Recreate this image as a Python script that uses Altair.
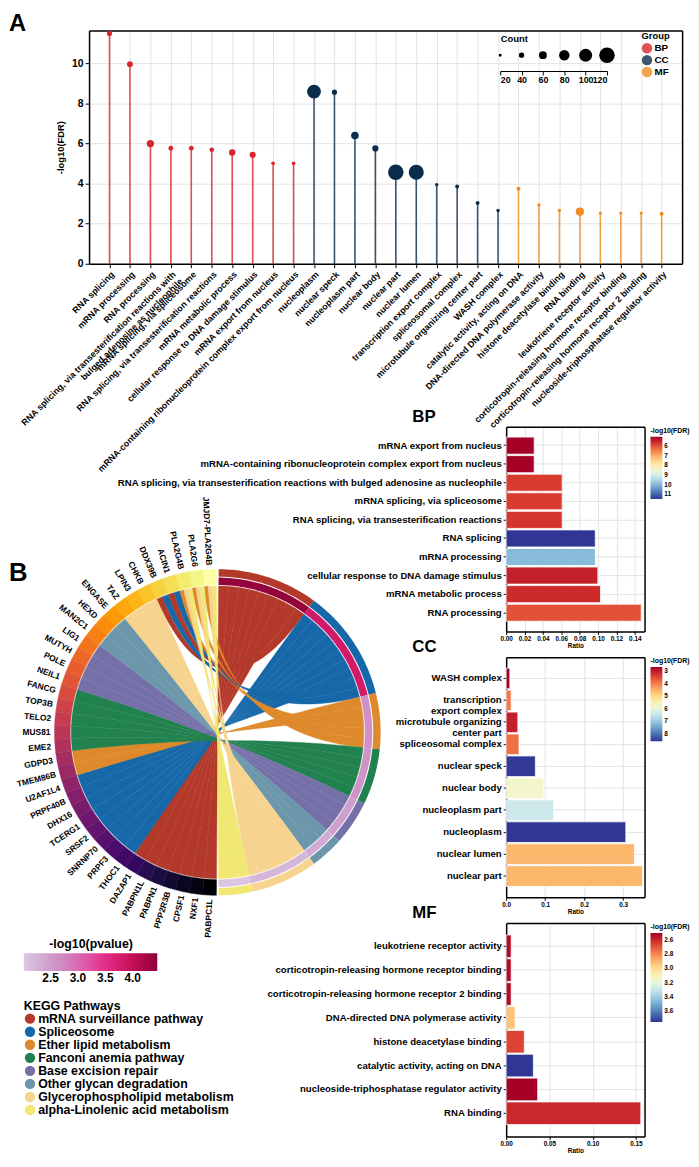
import math
import altair as alt
import pandas as pd

FONT = "Liberation Sans"

# ---------------- GO enrichment data (panel A and bar charts) ----------------
bp_terms = ["RNA splicing", "mRNA processing", "RNA processing",
            "RNA splicing, via transesterification reactions with bulged adenosine as nucleophile",
            "mRNA splicing, via spliceosome", "RNA splicing, via transesterification reactions",
            "mRNA metabolic process", "cellular response to DNA damage stimulus",
            "mRNA export from nucleus", "mRNA-containing ribonucleoprotein complex export from nucleus"]
bp_fdr = [11.5, 9.97, 6.0, 5.77, 5.77, 5.69, 5.56, 5.44, 5.02, 5.02]
bp_count = [39, 44, 56, 36, 36, 34, 49, 47, 27, 27]
bp_ratio = [0.097, 0.097, 0.147, 0.061, 0.061, 0.061, 0.1027, 0.0998, 0.0305, 0.0305]

cc_terms = ["nucleoplasm", "nuclear speck", "nucleoplasm part", "nuclear body", "nuclear part",
            "nuclear lumen", "transcription export complex", "spliceosomal complex",
            "microtubule organizing center part", "WASH complex"]
cc_fdr = [8.6, 8.57, 6.41, 5.76, 4.57, 4.57, 3.95, 3.86, 3.04, 2.66]
cc_count = [107, 39, 58, 47, 120, 117, 24, 29, 29, 24]
cc_ratio = [0.307, 0.075, 0.122, 0.0966, 0.350, 0.329, 0.0128, 0.033, 0.030, 0.0095]

mf_terms = ["catalytic activity, acting on DNA", "DNA-directed DNA polymerase activity",
            "histone deacetylase binding", "RNA binding", "leukotriene receptor activity",
            "corticotropin-releasing hormone receptor binding",
            "corticotropin-releasing hormone receptor 2 binding",
            "nucleoside-triphosphatase regulator activity"]
mf_fdr = [3.75, 2.94, 2.66, 2.60, 2.53, 2.53, 2.53, 2.50]
mf_count = [29, 24, 24, 63, 22, 22, 22, 29]
mf_ratio = [0.0315, 0.0104, 0.021, 0.1557, 0.0058, 0.0058, 0.0058, 0.0365]

groups = ["BP", "CC", "MF"]
group_colors = ["#d8262c", "#0c2c4b", "#f28b1e"]
size_legend_counts = [20, 40, 60, 80, 100, 120]

bp_bar_order = ["mRNA export from nucleus", "mRNA-containing ribonucleoprotein complex export from nucleus",
                "RNA splicing, via transesterification reactions with bulged adenosine as nucleophile",
                "mRNA splicing, via spliceosome", "RNA splicing, via transesterification reactions",
                "RNA splicing", "mRNA processing", "cellular response to DNA damage stimulus",
                "mRNA metabolic process", "RNA processing"]
cc_bar_order = ["WASH complex", "transcription export complex", "microtubule organizing center part",
                "spliceosomal complex", "nuclear speck", "nuclear body", "nucleoplasm part",
                "nucleoplasm", "nuclear lumen", "nuclear part"]
mf_bar_order = ["leukotriene receptor activity", "corticotropin-releasing hormone receptor binding",
                "corticotropin-releasing hormone receptor 2 binding", "DNA-directed DNA polymerase activity",
                "histone deacetylase binding", "catalytic activity, acting on DNA",
                "nucleoside-triphosphatase regulator activity", "RNA binding"]

# ---------------- KEGG chord data (panel B) ----------------
genes = ["JMJD7-PLA2G4B", "PLA2G6", "PLA2G4B", "ACIN1", "DDX39B", "CHKB", "LPIN3", "TAZ",
         "ENGASE", "HEXD", "MAN2C1", "LIG1", "MUTYH", "POLE", "NEIL1", "FANCG", "TOP3B",
         "TELO2", "MUS81", "EME2", "GDPD3", "TMEM86B", "U2AF1L4", "PRPF40B", "DHX16",
         "TCERG1", "SRSF2", "SNRNP70", "PRPF3", "THOC1", "DAZAP1", "PABPN1L", "PABPN1",
         "PPP2R3B", "CPSF1", "NXF1", "PABPC1L"]
pathways = ["mRNA surveillance pathway", "Spliceosome", "Ether lipid metabolism",
            "Fanconi anemia pathway", "Base excision repair", "Other glycan degradation",
            "Glycerophospholipid metabolism", "alpha-Linolenic acid metabolism"]
pathway_colors = ["#b3392a", "#1668a8", "#de8a2c", "#21824f", "#7670a9", "#6c97aa",
                  "#f6d48f", "#f0e872"]
pathway_logp = [4.4, 3.8, 2.65, 2.6, 2.5, 2.35, 2.2, 2.05]
pathway_genes = [
    ["ACIN1", "DDX39B", "DAZAP1", "PABPN1L", "PABPN1", "PPP2R3B", "CPSF1", "NXF1", "PABPC1L"],
    ["ACIN1", "DDX39B", "U2AF1L4", "PRPF40B", "DHX16", "TCERG1", "SRSF2", "SNRNP70", "PRPF3", "THOC1"],
    ["JMJD7-PLA2G4B", "PLA2G6", "PLA2G4B", "GDPD3", "TMEM86B"],
    ["FANCG", "TOP3B", "TELO2", "MUS81", "EME2"],
    ["LIG1", "MUTYH", "POLE", "NEIL1"],
    ["ENGASE", "HEXD", "MAN2C1"],
    ["JMJD7-PLA2G4B", "PLA2G6", "PLA2G4B", "CHKB", "LPIN3", "TAZ"],
    ["JMJD7-PLA2G4B", "PLA2G6", "PLA2G4B"],
]
pvalue_legend_values = [2.5, 3.0, 3.5, 4.0]

# ---------------- chord geometry (derived from the lists above) ----------------
GAP = 0.4
R_CH, R_IN, R_OUT = 148, 149, 165
R_PV_OUT, R_PW_IN = 156.5, 157.5
R_LAB = 169


def pt(theta, r):
    t = math.radians(theta)
    return [round(r * math.sin(t), 2), round(r * math.cos(t), 2)]


def arc(t0, t1, r, step=0.8):
    n = max(2, int(abs(t1 - t0) / step) + 2)
    return [pt(t0 + (t1 - t0) * k / (n - 1), r) for k in range(n)]


def bez(p0, p2, n=36):
    out = []
    for k in range(n):
        s = k / (n - 1)
        out.append([round((1 - s) ** 2 * p0[0] + s ** 2 * p2[0], 2),
                    round((1 - s) ** 2 * p0[1] + s ** 2 * p2[1], 2)])
    return out


def feat(coords, **props):
    ring = coords + [coords[0]]
    return {"type": "Feature", "geometry": {"type": "Polygon", "coordinates": [ring]},
            "properties": props}


n_links = sum(len(p) for p in pathway_genes)
u_link = (180 - 2 * GAP) / n_links
u_gene = (180 - 2 * GAP) / len(genes)


def gene_span(i):
    return (360 - GAP - (i + 1) * u_gene, 360 - GAP - i * u_gene)


link_target = {}
pw_spans = []
cur = GAP
for pi_, plist in enumerate(pathway_genes):
    s0 = cur
    ordered = sorted(plist, key=lambda g: sum(gene_span(genes.index(g))) / 2 - 180)
    for g in ordered:
        link_target[(g, pi_)] = (cur, cur + u_link)
        cur += u_link
    pw_spans.append((s0, cur))

link_source = {}
for i, g in enumerate(genes):
    ls = [(pi_, link_target[(g, pi_)]) for pi_ in range(len(pathways)) if (g, pi_) in link_target]
    ls.sort(key=lambda x: sum(x[1]) / 2)
    a0, a1 = gene_span(i)
    w = (a1 - a0) / max(1, len(ls))
    for k, (pi_, _) in enumerate(ls):
        link_source[(g, pi_)] = (a0 + k * w, a0 + (k + 1) * w)

ribbons = []
for pi_, plist in enumerate(pathway_genes):
    for g in plist:
        a1, a2 = link_source[(g, pi_)]
        b1, b2 = link_target[(g, pi_)]
        poly = (arc(a1, a2, R_CH) + bez(pt(a2, R_CH), pt(b2, R_CH)) +
                arc(b2, b1, R_CH) + bez(pt(b1, R_CH), pt(a1, R_CH)))
        ribbons.append(feat(poly, pathway=pathways[pi_], gene=g))

gene_ring = []
for i, g in enumerate(genes):
    a0, a1 = gene_span(i)
    gene_ring.append(feat(arc(a0, a1, R_OUT) + arc(a1, a0, R_IN), idx=i, gene=g))

pw_ring, pv_ring = [], []
for pi_, (s0, s1) in enumerate(pw_spans):
    pw_ring.append(feat(arc(s0, s1, R_OUT) + arc(s1, s0, R_PW_IN), pathway=pathways[pi_]))
    pv_ring.append(feat(arc(s0, s1, R_PV_OUT) + arc(s1, s0, R_IN), logp=pathway_logp[pi_]))

label_rows = []
for i, g in enumerate(genes):
    phi = 360 - sum(gene_span(i)) / 2  # counter-clockwise from top
    x, y = pt(360 - phi, R_LAB)
    label_rows.append({"gene": g, "x": x, "y": y, "ang": (90 - phi) % 360})
df_lab = pd.DataFrame(label_rows)

# ---------------- Panel A: lollipop ----------------
rowsA = []
for g, terms, fdr, cnt in [("BP", bp_terms, bp_fdr, bp_count), ("CC", cc_terms, cc_fdr, cc_count),
                           ("MF", mf_terms, mf_fdr, mf_count)]:
    for t, f, c in zip(terms, fdr, cnt):
        rowsA.append({"term": t, "group": g, "fdr": f, "count": c})
dfA = pd.DataFrame(rowsA)
orderA = bp_terms + cc_terms + mf_terms

x_scaleA = alt.Scale(type="point", padding=1)
y_scaleA = alt.Scale(domain=[0, 11.65], nice=False)
color_scaleA = alt.Scale(domain=groups, range=group_colors)
size_scale = alt.Scale(type="pow", exponent=2, domain=[-10, 120], range=[0, 246])

NB = "\u00a0"
long_bp = bp_terms[3]
labelExprA = ("datum.label == '" + long_bp + "' ? ['RNA splicing, via transesterification reactions with', "
              "'bulged adenosine as nucleophile" + NB * 30 + "'] : datum.label")

group_legend = alt.Legend(title="Group", orient="none", legendX=559, legendY=1,
                          symbolType="circle", symbolSize=110, labelFontSize=10,
                          titleFontSize=9.5, rowPadding=1, titlePadding=2,
                          labelOffset=2, symbolStrokeWidth=0)

stems = alt.Chart(dfA).mark_rule(strokeWidth=1.6, opacity=0.8).encode(
    x=alt.X("term:N", sort=orderA, scale=x_scaleA,
            axis=alt.Axis(orient="top", labels=False, ticks=False, title=None, grid=False,
                          domainWidth=1.5)),
    y=alt.Y("fdr:Q", scale=y_scaleA,
            axis=alt.Axis(orient="right", labels=False, ticks=False, title=None, grid=False,
                          domainWidth=1.5)),
    y2=alt.datum(0),
    color=alt.Color("group:N", scale=color_scaleA, legend=group_legend),
)

dots = alt.Chart(dfA).mark_circle(opacity=1).encode(
    x=alt.X("term:N", sort=orderA, scale=x_scaleA,
            axis=alt.Axis(title=None, labelAngle=-45, labelFontSize=9, labelLimit=1000,
                          labelExpr=labelExprA, labelLineHeight=10, grid=True, tickSize=4,
                          domainWidth=1.5, labelPadding=2)),
    y=alt.Y("fdr:Q", scale=y_scaleA,
            axis=alt.Axis(title="-log10(FDR)", values=[0, 2, 4, 6, 8, 10], grid=True,
                          labelFontSize=10.5, titleFontSize=9.5, tickSize=4, domainWidth=1.5,
                          titlePadding=6)),
    size=alt.Size("count:Q", scale=size_scale, legend=None),
    color=alt.Color("group:N", scale=color_scaleA, legend=group_legend),
)

size_leg = alt.Chart(pd.DataFrame({"cnt": size_legend_counts})).mark_circle(
    color="black", opacity=1).encode(
    x=alt.X("cnt:Q", scale=alt.Scale(domain=[20, 120], range=[416, 524]),
            axis=alt.Axis(orient="bottom", offset=-195, values=size_legend_counts, title="Count",
                          titleAnchor="start", titleAlign="left", titleY=-30,
                          titleBaseline="alphabetic", grid=False, labelFontSize=9,
                          titleFontSize=9.5, tickSize=4, domainWidth=1.2, labelPadding=1,
                          labelOverlap=False)),
    y=alt.value(25),
    size=alt.Size("cnt:Q", scale=size_scale, legend=None),
)

A = alt.layer(stems, dots, size_leg).resolve_scale(x="independent").resolve_axis(
    y="independent").properties(
    width=600, height=236,
    title=alt.TitleParams("A", anchor="start", frame="group", dx=-81, dy=10, fontSize=24, offset=4),
)

# ---------------- bar charts ----------------
lookup = {}
for terms, ratio, fdr in [(bp_terms, bp_ratio, bp_fdr), (cc_terms, cc_ratio, cc_fdr),
                          (mf_terms, mf_ratio, mf_fdr)]:
    for t, r, f in zip(terms, ratio, fdr):
        lookup[t] = (r, f)


def bar_panel(title, order, xmax, xvals, xfmt, h, po, pinner, lvals, lfmt, glen, lexpr=None):
    df = pd.DataFrame({"term": order, "ratio": [lookup[t][0] for t in order],
                       "fdr": [lookup[t][1] for t in order]})
    fd = [lookup[t][1] for t in order]
    yscale = alt.Scale(paddingInner=pinner, paddingOuter=po)
    xscale = alt.Scale(domain=[0, xmax], nice=False)
    yargs = dict(title=None, labelFontSize=9.7, labelLimit=1000, grid=True, tickSize=3,
                 labelPadding=2, domainWidth=1.5, labelLineHeight=11)
    if lexpr:
        yargs["labelExpr"] = lexpr
    base = alt.Chart(df).transform_calculate(neg="-datum.fdr")
    bars = base.mark_bar(stroke="white", strokeWidth=0.8).encode(
        y=alt.Y("term:N", sort=order, scale=yscale, axis=alt.Axis(**yargs)),
        x=alt.X("ratio:Q", scale=xscale,
                axis=alt.Axis(values=xvals, format=xfmt, title="Ratio", labelFontSize=6.5,
                              titleFontSize=6.5, tickSize=3, titlePadding=1, labelPadding=1,
                              grid=True, domainWidth=1.5, labelOverlap=False, labelFlush=False)),
        color=alt.Color("neg:Q", scale=alt.Scale(scheme="redyellowblue", reverse=True,
                                                 domain=[-max(fd), -min(fd)], nice=False),
                        legend=alt.Legend(title="-log10(FDR)", orient="right", offset=6,
                                          gradientLength=glen, gradientThickness=12,
                                          values=[-v for v in lvals],
                                          labelExpr="format(-datum.value, '" + lfmt + "')",
                                          labelFontSize=6.5, titleFontSize=7, titlePadding=3)),
    )
    frame = base.mark_bar(opacity=0).encode(
        y=alt.Y("term:N", sort=order, scale=yscale,
                axis=alt.Axis(orient="right", labels=False, ticks=False, title=None, grid=False,
                              domainWidth=1.5)),
        x=alt.X("ratio:Q", scale=xscale,
                axis=alt.Axis(orient="top", labels=False, ticks=False, title=None, grid=False,
                              domainWidth=1.5)),
    )
    return alt.layer(bars, frame).resolve_axis(x="independent", y="independent").properties(
        width=140, height=h,
        title=alt.TitleParams(title, anchor="start", frame="group", dx=-95, fontSize=17, offset=1),
    )


cc_expr = ("datum.label == 'transcription export complex' ? ['transcription', 'export complex'] : "
           "datum.label == 'microtubule organizing center part' ? ['microtubule organizing', 'center part'] : datum.label")

BP = bar_panel("BP", bp_bar_order, 0.1506, [0, 0.02, 0.04, 0.06, 0.08, 0.10, 0.12, 0.14], ".2f",
               207, 0.55, 0.08, [6, 7, 8, 9, 10, 11], "d", 63)
CC = bar_panel("CC", cc_bar_order, 0.355, [0, 0.1, 0.2, 0.3], ".1f",
               243, 0.5, 0.06, [3, 4, 5, 6, 7, 8], "d", 75, cc_expr)
MF = bar_panel("MF", mf_bar_order, 0.160, [0, 0.05, 0.10, 0.15], ".2f",
               216, 0.5, 0.05, [2.6, 2.8, 3.0, 3.2, 3.4, 3.6], ".1f", 90)

# ---------------- Panel B: chord ----------------
proj = dict(type="identity", reflectY=True, scale=1, translate=[130, 309])
pw_scale = alt.Scale(domain=pathways, range=pathway_colors)
gene_scale = alt.Scale(scheme="inferno", domain=[0, len(genes) - 1], reverse=True)

ribbon_layer = alt.Chart(alt.Data(values=ribbons)).mark_geoshape(strokeWidth=0.4, clip=False).encode(
    color=alt.Color("properties.pathway:N", scale=pw_scale,
                    legend=alt.Legend(title="KEGG Pathways", orient="none", legendX=-66, legendY=580,
                                      symbolType="circle", symbolSize=110, labelFontSize=12.5,
                                      titleFontSize=12.5, rowPadding=0.2, titlePadding=0,
                                      labelOffset=2, symbolStrokeWidth=0, labelLimit=400)),
    stroke=alt.Stroke("properties.pathway:N", scale=pw_scale, legend=None),
).project(**proj)

gene_ring_layer = alt.Chart(alt.Data(values=gene_ring)).mark_geoshape(strokeWidth=0.4, clip=False).encode(
    color=alt.Color("properties.idx:Q", scale=gene_scale, legend=None),
    stroke=alt.Stroke("properties.idx:Q", scale=gene_scale, legend=None),
).project(**proj)

pw_ring_layer = alt.Chart(alt.Data(values=pw_ring)).mark_geoshape(strokeWidth=0, clip=False).encode(
    color=alt.Color("properties.pathway:N", scale=pw_scale, legend=None),
).project(**proj)

pv_ring_layer = alt.Chart(alt.Data(values=pv_ring)).mark_geoshape(strokeWidth=0, clip=False).encode(
    color=alt.Color("properties.logp:Q", scale=alt.Scale(scheme="purplered", domain=[2.01, 4.45]),
                    legend=alt.Legend(title="-log10(pvalue)", orient="none", legendX=-66, legendY=517,
                                      direction="horizontal", gradientLength=135,
                                      gradientThickness=18, values=pvalue_legend_values,
                                      format=".1f", labelFontSize=12, titleFontSize=12.5,
                                      titleOrient="top", titleAnchor="middle", titlePadding=3)),
).project(**proj)

label_layer = alt.Chart(df_lab).mark_text(align="right", baseline="middle", fontSize=8.5,
                                          fontWeight="bold", font=FONT, color="black",
                                          clip=False).encode(
    longitude="x:Q", latitude="y:Q", text="gene:N",
    angle=alt.Angle("ang:Q", scale=None),
).project(**proj)

chord = alt.layer(ribbon_layer, gene_ring_layer, pw_ring_layer, pv_ring_layer, label_layer).resolve_scale(
    color="independent", stroke="independent").properties(
    width=412, height=718,
    title=alt.TitleParams("B", anchor="start", frame="group", dx=-81, dy=161, fontSize=26, offset=0),
)

right = alt.vconcat(BP, CC, MF, spacing=26, bounds="flush").resolve_scale(color="independent")
row2 = alt.hconcat(chord, right, spacing=10, bounds="flush").resolve_scale(color="independent")
chart = alt.vconcat(A, row2, spacing=165, bounds="flush").resolve_scale(
    color="independent").properties(
    padding={"left": 0, "top": -3, "right": 0, "bottom": 0})

chart = chart.configure(font=FONT).configure_view(stroke="transparent").configure_axis(
    labelFontWeight="bold", titleFontWeight="bold", labelColor="black", titleColor="black",
    domainColor="black", tickColor="black", gridColor="#e3e3e3", labelFont=FONT, titleFont=FONT,
).configure_legend(
    labelFontWeight="bold", titleFontWeight="bold", labelColor="black", titleColor="black",
    labelFont=FONT, titleFont=FONT,
).configure_title(font=FONT, fontWeight="bold", color="black")

chart.save("out.html", embed_options={"renderer": "svg", "actions": False})
